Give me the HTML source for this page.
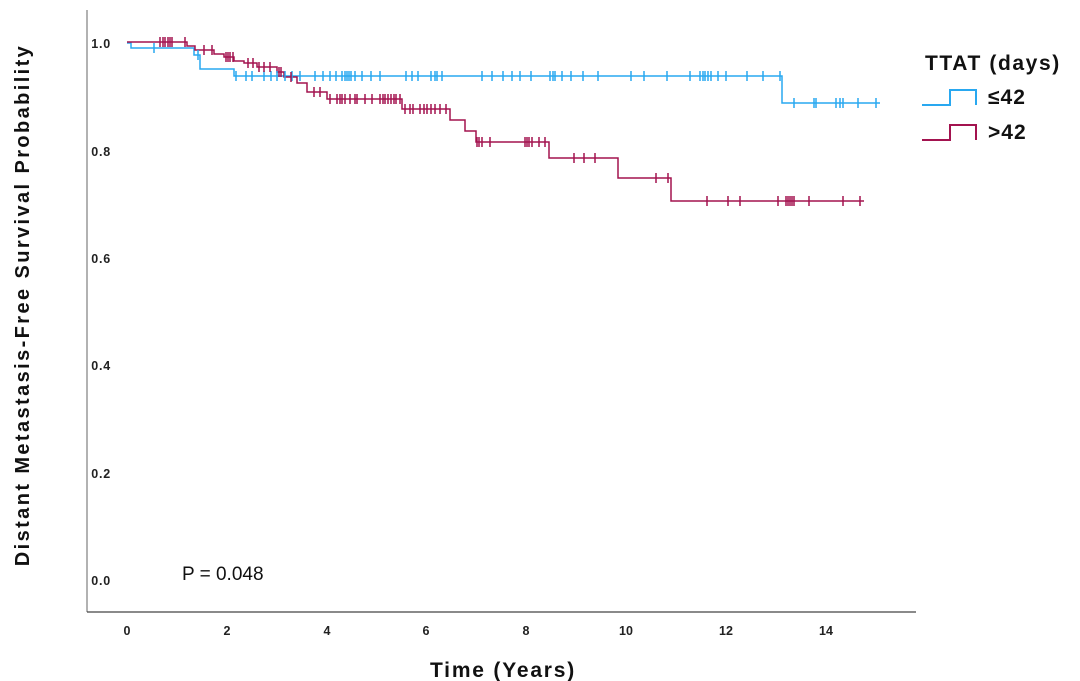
<!DOCTYPE html>
<html><head><meta charset="utf-8"><style>body{margin:0;background:#fff}svg{display:block;font-family:"Liberation Sans",sans-serif}</style></head><body>
<svg id="s" width="1080" height="681" xmlns="http://www.w3.org/2000/svg">
<line x1="87" y1="10" x2="87" y2="612" stroke="#888" stroke-width="1.3"/>
<line x1="87" y1="612" x2="916" y2="612" stroke="#444" stroke-width="1.3"/>
<g font-size="12.5" font-weight="bold" fill="#222" text-anchor="end" letter-spacing="0.8">
<text x="111" y="48">1.0</text><text x="111" y="156">0.8</text><text x="111" y="263">0.6</text><text x="111" y="370">0.4</text><text x="111" y="478">0.2</text><text x="111" y="585">0.0</text></g>
<g font-size="12.5" font-weight="bold" fill="#222" text-anchor="middle">
<text x="127" y="635">0</text><text x="227" y="635">2</text><text x="327" y="635">4</text><text x="426" y="635">6</text><text x="526" y="635">8</text><text x="626" y="635">10</text><text x="726" y="635">12</text><text x="826" y="635">14</text></g>
<text x="503" y="677" font-size="21" font-weight="bold" text-anchor="middle" fill="#111" letter-spacing="1.8">Time (Years)</text>
<text transform="translate(29,305) rotate(-90)" font-size="20" font-weight="bold" text-anchor="middle" fill="#111" letter-spacing="2.4">Distant Metastasis-Free Survival Probability</text>
<text x="182" y="580" font-size="19" fill="#111">P = 0.048</text>
<text x="925" y="70" font-size="21" font-weight="bold" fill="#111" letter-spacing="1.6">TTAT (days)</text>
<path d="M922 105H950V90H976V105" fill="none" stroke="#29a8f0" stroke-width="2"/>
<path d="M922 140H950V125H976V140" fill="none" stroke="#a3134f" stroke-width="2"/>
<text x="988" y="104" font-size="21" font-weight="bold" fill="#111" letter-spacing="1">≤42</text>
<text x="988" y="139" font-size="21" font-weight="bold" fill="#111" letter-spacing="1">&gt;42</text>
<path d="M127 43H131V48H194V55H200V69H234V76H782V103H880" fill="none" stroke="#29a8f0" stroke-width="1.5"/>
<path d="M127 42H187V46H195V50H214V54H224V57H234V61H244V63H257V67H277V72H284V77H297V83H307V92H327V99H402V109H450V120H465V131H476V142H549V158H618V178H671V201H864" fill="none" stroke="#a3134f" stroke-width="1.5"/>
<g id="ticks"></g>
</svg>
<script>
function lv(pts,x){let y=pts[0][1];for(const p of pts){if(x>=p[0])y=p[1];}return y;}
const B=[[127,43],[131,48],[194,55],[200,69],[234,76],[782,103]];
const R=[[127,42],[187,46],[195,50],[214,54],[224,57],[234,61],[244,63],[257,67],[277,72],[284,77],[297,83],[307,92],[327,99],[402,109],[450,120],[465,131],[476,142],[549,158],[618,178],[671,201]];
const bt=[154,198,236,246,252,264,271,277,285,292,300,315,323,330,336,342,345,347,349,351,355,362,371,380,406,412,418,431,435,437,442,482,492,503,512,520,531,550,553,555,562,571,583,598,631,644,667,690,700,703,705,708,711,718,726,747,763,780,794,814,816,836,840,843,858,876];
const rt=[160,163,165,168,170,172,185,204,212,226,228,230,233,248,253,259,264,270,279,281,291,314,320,330,337,340,342,345,350,355,357,365,372,380,383,385,388,391,394,396,400,405,410,413,420,424,427,431,435,440,446,477,479,482,490,525,527,529,532,539,545,574,584,595,656,668,707,728,740,778,786,788,790,792,794,809,843,860];
let h='';
for(const x of bt){const y=lv(B,x);h+=`<line x1="${x}" y1="${y-5}" x2="${x}" y2="${y+5}" stroke="#29a8f0" stroke-width="1.5"/>`;}
for(const x of rt){const y=lv(R,x);h+=`<line x1="${x}" y1="${y-5}" x2="${x}" y2="${y+5}" stroke="#a3134f" stroke-width="1.5"/>`;}
document.getElementById('ticks').innerHTML=h;
</script>
</body></html>
